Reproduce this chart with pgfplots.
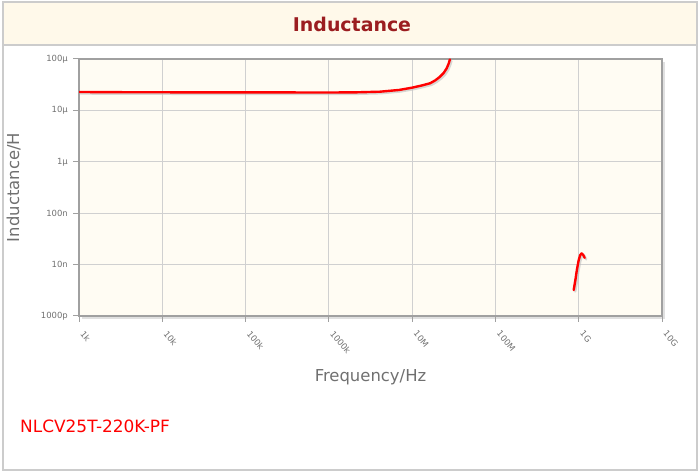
\documentclass[border=0pt]{standalone}
\usepackage{pgfplots}
\pgfplotsset{compat=1.18}
\usepackage{fontspec}
\setmainfont{DejaVu Sans}
\definecolor{titlered}{HTML}{9B1D20}
\definecolor{bandbg}{HTML}{FFF9EA}
\definecolor{plotbg}{HTML}{FFFCF3}
\definecolor{framegray}{HTML}{A0A0A0}
\definecolor{gridgray}{HTML}{D0D0D0}
\definecolor{labgray}{HTML}{707070}
\definecolor{bordergray}{HTML}{CCCCCC}
\begin{document}
\begin{tikzpicture}[x=1bp,y=1bp]
\useasboundingbox (0,0) rectangle (699,472);
% outer frame and title band
\fill[bandbg] (3,427) rectangle (697,470);
\draw[bordergray, line width=1.2bp] (3,2) rectangle (697,470);
\draw[bordergray, line width=1.2bp] (3,427) -- (697,427);
\node[font=\bfseries\fontsize{19}{22}\selectfont, text=titlered] at (352,448) {Inductance};
% soft shadow of the plot frame
\fill[black!12] (82,153) rectangle (665,410);
\begin{axis}[
  at={(79bp,156bp)}, anchor=south west,
  scale only axis, width=583bp, height=257bp,
  xmode=log, ymode=log,
  xmin=1e3, xmax=1e10, ymin=1e-9, ymax=1e-4,
  axis background/.style={fill=plotbg},
  axis line style={framegray, line width=1.6bp},
  grid=major, major grid style={gridgray, line width=0.8bp},
  xminorticks=false, yminorticks=false,
  xtick pos=bottom, ytick pos=left,
  xtick={1e3,1e4,1e5,1e6,1e7,1e8,1e9,1e10},
  xticklabels={1k,10k,100k,1000k,10M,100M,1G,10G},
  ytick={1e-9,1e-8,1e-7,1e-6,1e-5,1e-4},
  yticklabels={1000p,10n,100n,1µ,10µ,100µ},
  tick align=outside, major tick length=6bp,
  tick style={framegray, line width=1bp},
  xticklabel style={font=\fontsize{8.5}{9}\selectfont, text=labgray, rotate=-50, anchor=north west, inner sep=0.5bp, xshift=9bp, yshift=0bp},
  yticklabel style={font=\fontsize{8.5}{9}\selectfont, text=labgray, inner sep=1bp, xshift=-4bp},
  xlabel={Frequency/Hz}, ylabel={Inductance/H},
  xlabel style={font=\fontsize{16.5}{18}\selectfont, text=labgray, at={(axis description cs:0.5,-0.237)}, anchor=center},
  ylabel style={font=\fontsize{16.5}{18}\selectfont, text=labgray, at={(axis description cs:-0.112,0.5)}, anchor=center},
  clip=true,
]
\addplot[black!25, opacity=0.6, line width=2.4bp, line join=round, line cap=round, shift={(1.5bp,-1.5bp)}] coordinates {
(1e3,22.8e-6) (3e3,22.6e-6) (1e4,22.5e-6) (1e5,22.4e-6) (1e6,22.3e-6) (2e6,22.4e-6) (4.1e6,23.1e-6)
(7e6,25e-6) (1e7,27.7e-6) (1.3e7,30.5e-6) (1.64e7,33.7e-6) (1.9e7,38.5e-6) (2.15e7,45e-6) (2.4e7,54e-6) (2.6e7,66e-6) (2.75e7,82e-6) (2.84e7,98e-6)
};
\addplot[black!25, opacity=0.6, line width=2.4bp, line join=round, line cap=round, shift={(1.5bp,-1.5bp)}] coordinates {
(0.87e9,3.2e-9) (0.92e9,5.5e-9) (0.95e9,7.9e-9) (1.0e9,12.3e-9) (1.04e9,15.2e-9) (1.08e9,16.5e-9) (1.13e9,15.5e-9) (1.18e9,13.5e-9)
};
\addplot[red, line width=2.4bp, line join=round, line cap=round] coordinates {
(1e3,22.8e-6) (3e3,22.6e-6) (1e4,22.5e-6) (1e5,22.4e-6) (1e6,22.3e-6) (2e6,22.4e-6) (4.1e6,23.1e-6)
(7e6,25e-6) (1e7,27.7e-6) (1.3e7,30.5e-6) (1.64e7,33.7e-6) (1.9e7,38.5e-6) (2.15e7,45e-6) (2.4e7,54e-6) (2.6e7,66e-6) (2.75e7,82e-6) (2.84e7,98e-6)
};
\addplot[red, line width=2.4bp, line join=round, line cap=round] coordinates {
(0.87e9,3.2e-9) (0.92e9,5.5e-9) (0.95e9,7.9e-9) (1.0e9,12.3e-9) (1.04e9,15.2e-9) (1.08e9,16.5e-9) (1.13e9,15.5e-9) (1.18e9,13.5e-9)
};
\end{axis}
\node[anchor=base west, inner sep=0pt, font=\fontsize{17}{19}\selectfont, text=red] at (20,39) {NLCV25T-220K-PF};
\end{tikzpicture}
\end{document}
